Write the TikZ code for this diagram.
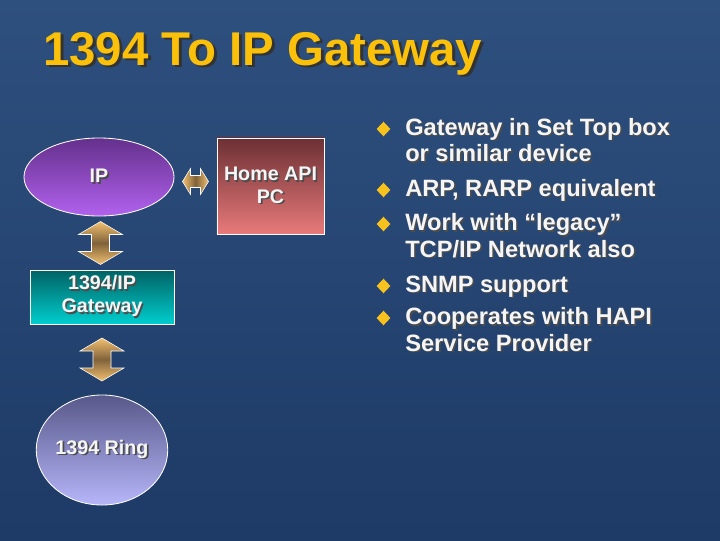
\documentclass[tikz,border=0pt]{standalone}
\usepackage{fontspec}
\setmainfont{Liberation Sans}
\usepackage{xcolor}
\usepackage{tikz}
\usetikzlibrary{calc,shapes.geometric}
\definecolor{slidenavy}{RGB}{30,58,102}
\definecolor{slidenavylight}{RGB}{46,80,126}
\definecolor{titlegold}{RGB}{250,192,10}
\definecolor{bulletgold}{RGB}{248,194,30}
\definecolor{iptop}{RGB}{100,48,140}
\definecolor{ipbottom}{RGB}{178,98,238}
\definecolor{hometop}{RGB}{108,48,52}
\definecolor{homebottom}{RGB}{232,122,122}
\definecolor{gwtop}{RGB}{0,98,100}
\definecolor{gwbottom}{RGB}{0,206,206}
\definecolor{ringtop}{RGB}{88,88,138}
\definecolor{ringbottom}{RGB}{182,182,250}
\definecolor{linkend}{RGB}{242,192,112}
\definecolor{linkmid}{RGB}{128,98,58}
\definecolor{textwhite}{RGB}{245,245,245}

\newcommand{\drop}[1]{\leavevmode\rlap{\kern1.2pt\raisebox{-1.2pt}{\color{black!70}#1}}#1}
\newcommand{\droptitle}[1]{\leavevmode\rlap{\kern2pt\raisebox{-2pt}{\color{black!80}#1}}#1}

\tikzset{
  block/.style={draw=white, line width=0.6pt, text=textwhite, align=center, inner sep=0pt,
    font=\fontsize{14}{16.3}\selectfont\bfseries},
  bulletmark/.style={diamond, fill=bulletgold, inner sep=0pt, minimum width=0.35cm, minimum height=0.37cm},
  itemtext/.style={anchor=base west, inner sep=0pt, text=textwhite, align=left,
    font=\fontsize{16.8}{18.8}\selectfont\bfseries},
  vlink/.pic={
    \path[draw=white, line width=0.4pt, top color=linkend, bottom color=linkend, middle color=linkmid]
      (0,-21.5) -- (22,-8.5) -- (9,-8.5) -- (9,8.5) -- (22,8.5) -- (0,21.5)
      -- (-22,8.5) -- (-9,8.5) -- (-9,-8.5) -- (-22,-8.5) -- cycle;
  },
  hlink/.pic={
    \path[draw=white, line width=0.4pt, left color=linkend, right color=linkend, middle color=linkmid]
      (-13,0) -- (-5,-13) -- (-5,-6) -- (5,-6) -- (5,-13) -- (13,0)
      -- (5,13) -- (5,6) -- (-5,6) -- (-5,13) -- cycle;
  }
}

\begin{document}
\begin{tikzpicture}[x=0.025cm, y=-0.025cm]
\shade[top color=slidenavylight, bottom color=slidenavy] (0,0) rectangle (720,540);

\node[anchor=base west, inner sep=0pt, text=titlegold, font=\fontsize{33.7}{40}\selectfont\bfseries]
  (title) at (43,65) {\droptitle{1394 To IP Gateway}};

\node[block, ellipse, minimum width=3.75cm, minimum height=1.95cm, top color=iptop, bottom color=ipbottom]
  (ip) at (99,177) {\drop{IP}};
\node[block, rectangle, minimum width=2.675cm, minimum height=2.4cm, top color=hometop, bottom color=homebottom]
  (home) at (270.5,186) {\drop{Home API}\\\drop{PC}};
\node[block, rectangle, minimum width=3.6cm, minimum height=1.35cm, top color=gwtop, bottom color=gwbottom]
  (gw) at (102,297) {\drop{1394/IP}\\\drop{Gateway}};
\node[block, ellipse, minimum width=3.0cm, minimum height=2.75cm, top color=ringtop, bottom color=ringbottom]
  (ring) at (102,450) {\drop{1394 Ring}};

\pic at ($(ip.east)!0.5!(home.west)$) {hlink};
\pic at ($(ip.south)!0.5!(gw.north)$) {vlink};
\pic at ($(gw.south)!0.5!(ring.north)$) {vlink};

\node[bulletmark] (d1) at (383.5,129) {};
\node[bulletmark] (d2) at (383.5,190) {};
\node[bulletmark] (d3) at (383.5,224) {};
\node[bulletmark] (d4) at (383.5,286) {};
\node[bulletmark] (d5) at (383.5,318) {};

\node[itemtext] (b1) at (405,161.5) {\drop{Gateway in Set Top box}\\\drop{or similar device}};
\node[itemtext] (b2) at (405,196) {\drop{ARP, RARP equivalent}};
\node[itemtext] (b3) at (405,257) {\drop{Work with “legacy”}\\\drop{TCP/IP Network also}};
\node[itemtext] (b4) at (405,292) {\drop{SNMP support}};
\node[itemtext] (b5) at (405,351) {\drop{Cooperates with HAPI}\\\drop{Service Provider}};
\end{tikzpicture}
\end{document}
